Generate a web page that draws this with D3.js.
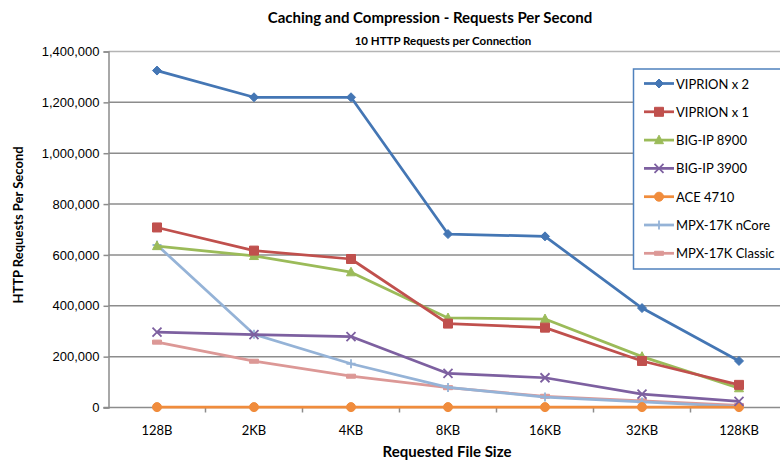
<!DOCTYPE html>
<html>
<head>
<meta charset="utf-8">
<script src="https://cdn.jsdelivr.net/npm/d3@7"></script>
<style>
  body { margin: 0; background: #fff; }
  svg { font-family: Lato, "Open Sans", sans-serif; }
</style>
</head>
<body>
<svg id="chart" width="780" height="462"></svg>
<script>
// file sizes along the x axis
const fileSizes = ['128B', '2KB', '4KB', '8KB', '16KB', '32KB', '128KB'];
const yTicks = [0, 200000, 400000, 600000, 800000, 1000000, 1200000, 1400000];

// requests per second
const viprion2 = [1325000, 1220000, 1220000, 682000, 673000, 391000, 183000];
const viprion1 = [708000, 617000, 584000, 330000, 314000, 183000, 89000];
const bigip8900 = [635000, 596000, 532000, 352000, 348000, 200000, 76000];
const bigip3900 = [296000, 287000, 279000, 134000, 117000, 53000, 24000];
const ace4710 = [1500, 1500, 1500, 1500, 1500, 1500, 1500];
const mpxNcore = [639000, 288000, 172000, 79000, 41000, 22000, 3000];
const mpxClassic = [257000, 182000, 123000, 78000, 44000, 26000, 8000];

const seriesNames = ['VIPRION x 2', 'VIPRION x 1', 'BIG-IP 8900', 'BIG-IP 3900',
  'ACE 4710', 'MPX-17K nCore', 'MPX-17K Classic'];
const seriesColors = ['#4476b4', '#c0504d', '#9bbb59', '#7d60a0', '#f08c3c', '#95b3d7', '#dc9896'];
const seriesMarkers = ['diamond', 'square', 'triangle', 'x', 'circle', 'plus', 'dash'];
const seriesValues = [viprion2, viprion1, bigip8900, bigip3900, ace4710, mpxNcore, mpxClassic];

const series = seriesNames.map((name, i) => ({
  name: name,
  color: seriesColors[i],
  marker: seriesMarkers[i],
  values: seriesValues[i]
}));

var svg = d3.select('#chart');
const PLOT_LEFT = 108.5, PLOT_RIGHT = 787.5, PLOT_TOP = 51.5, PLOT_BOTTOM = 407.5;
const gridColor = '#8c8c8c';

var x = d3.scaleBand().domain(fileSizes).range([PLOT_LEFT, PLOT_RIGHT]).padding(0);
var y = d3.scaleLinear().domain([0, 1400000]).range([PLOT_BOTTOM, PLOT_TOP]);

// gridlines
svg.append('g')
  .selectAll('line')
  .data(yTicks.slice(1))
  .enter()
  .append('line')
  .attr('x1', PLOT_LEFT)
  .attr('x2', PLOT_RIGHT)
  .attr('y1', d => y(d))
  .attr('y2', d => y(d))
  .attr('stroke', (d, i) => i === yTicks.length - 2 ? '#b4b4b4' : gridColor)
  .attr('stroke-width', 1.5);

// y axis
var yAxis = svg.append('g')
  .attr('transform', `translate(${PLOT_LEFT},0)`)
  .call(d3.axisLeft(y).tickValues(yTicks).tickSize(5).tickPadding(4).tickFormat(d3.format(',')));
yAxis.select('.domain').attr('stroke', gridColor).attr('stroke-width', 1.5);
yAxis.selectAll('.tick line').attr('stroke', gridColor).attr('stroke-width', 1.5);
yAxis.selectAll('text')
  .attr('fill', '#000')
  .style('font-size', '13px');

// x axis, tick marks between categories
var xg = svg.append('g').attr('transform', `translate(0,${PLOT_BOTTOM})`);
xg.append('line')
  .attr('x1', PLOT_LEFT - 5).attr('x2', PLOT_RIGHT)
  .attr('stroke', gridColor).attr('stroke-width', 1.5);
xg.selectAll('.xtick')
  .data(fileSizes)
  .enter()
  .append('line')
  .attr('class', 'xtick')
  .attr('x1', d => x(d) + x.bandwidth())
  .attr('x2', d => x(d) + x.bandwidth())
  .attr('y1', 0).attr('y2', 5)
  .attr('stroke', gridColor).attr('stroke-width', 1.5);
xg.selectAll('.xlabel')
  .data(fileSizes)
  .enter()
  .append('text')
  .attr('class', 'xlabel')
  .attr('x', d => x(d) + x.bandwidth() / 2)
  .attr('y', 27.5)
  .attr('text-anchor', 'middle')
  .style('font-size', '13px')
  .text(d => d);

// marker shapes
function markerPath(type, s) {
  switch (type) {
    case 'diamond': return `M0,${-s}L${s},0L0,${s}L${-s},0Z`;
    case 'square': return `M${-s},${-s}H${s}V${s}H${-s}Z`;
    case 'triangle': return `M0,${-s * 1.1}L${s},${s * 0.8}L${-s},${s * 0.8}Z`;
    case 'x': return `M${-s},${-s}L${s},${s}M${-s},${s}L${s},${-s}`;
    case 'circle': return d3.symbol(d3.symbolCircle, Math.PI * s * s)();
    case 'plus': return `M${-s},0H${s}M0,${-s}V${s}`;
    case 'dash': return `M${-s},${-s * 0.45}H${s}V${s * 0.45}H${-s}Z`;
  }
}
function isStroke(type) { return type === 'x' || type === 'plus'; }

var line = d3.line()
  .x((d, i) => x(fileSizes[i]) + x.bandwidth() / 2)
  .y(d => y(d));

var plot = svg.append('g');
// draw in reverse so VIPRION x 2 sits on top
series.slice().reverse().forEach(s => {
  var g = plot.append('g');
  g.append('path')
    .datum(s.values)
    .attr('fill', 'none')
    .attr('stroke', s.color)
    .attr('stroke-width', 2.75)
    .attr('stroke-linejoin', 'round')
    .attr('d', line);
  g.selectAll('.mk')
    .data(s.values)
    .enter()
    .append('path')
    .attr('class', 'mk')
    .attr('transform', (d, i) => `translate(${x(fileSizes[i]) + x.bandwidth() / 2},${y(d)})`)
    .attr('d', markerPath(s.marker, 4.5))
    .attr('fill', isStroke(s.marker) ? 'none' : s.color)
    .attr('stroke', s.color)
    .attr('stroke-width', isStroke(s.marker) ? 1.8 : 1);
});

// titles
svg.append('text')
  .attr('x', 430).attr('y', 23)
  .attr('text-anchor', 'middle')
  .style('font-size', '15px').style('font-weight', 'bold')
  .text('Caching and Compression - Requests Per Second');
svg.append('text')
  .attr('x', 443).attr('y', 45)
  .attr('text-anchor', 'middle')
  .style('font-size', '11.5px').style('font-weight', 'bold')
  .text('10 HTTP Requests per Connection');
svg.append('text')
  .attr('transform', 'translate(23,225) rotate(-90)')
  .attr('text-anchor', 'middle')
  .style('font-size', '13px').style('font-weight', 'bold')
  .text('HTTP Requests Per Second');
svg.append('text')
  .attr('x', 447).attr('y', 457)
  .attr('text-anchor', 'middle')
  .style('font-size', '15px').style('font-weight', 'bold')
  .text('Requested File Size');

// legend
const LEGEND_X = 633.5, LEGEND_Y = 69, LEGEND_ROW = 28.3;
var legend = svg.append('g');
legend.append('rect')
  .attr('x', LEGEND_X).attr('y', LEGEND_Y)
  .attr('width', 160).attr('height', 200)
  .attr('fill', '#fff')
  .attr('stroke', '#4f81bd').attr('stroke-width', 1.5);
var legendElem = legend.selectAll('.li')
  .data(series)
  .enter()
  .append('g')
  .attr('class', 'li')
  .attr('transform', (d, i) => `translate(${LEGEND_X}, ${LEGEND_Y + 14.5 + i * LEGEND_ROW})`);
legendElem.append('line')
  .attr('x1', 10.5).attr('x2', 40.5)
  .attr('stroke', d => d.color).attr('stroke-width', 2.75);
legendElem.append('path')
  .attr('transform', 'translate(25.5,0)')
  .attr('d', d => markerPath(d.marker, 4.5))
  .attr('fill', d => isStroke(d.marker) ? 'none' : d.color)
  .attr('stroke', d => d.color)
  .attr('stroke-width', d => isStroke(d.marker) ? 1.8 : 1);
legendElem.append('text')
  .attr('x', 42.5).attr('y', 5)
  .style('font-size', '13px')
  .text(d => d.name);
</script>
</body>
</html>
